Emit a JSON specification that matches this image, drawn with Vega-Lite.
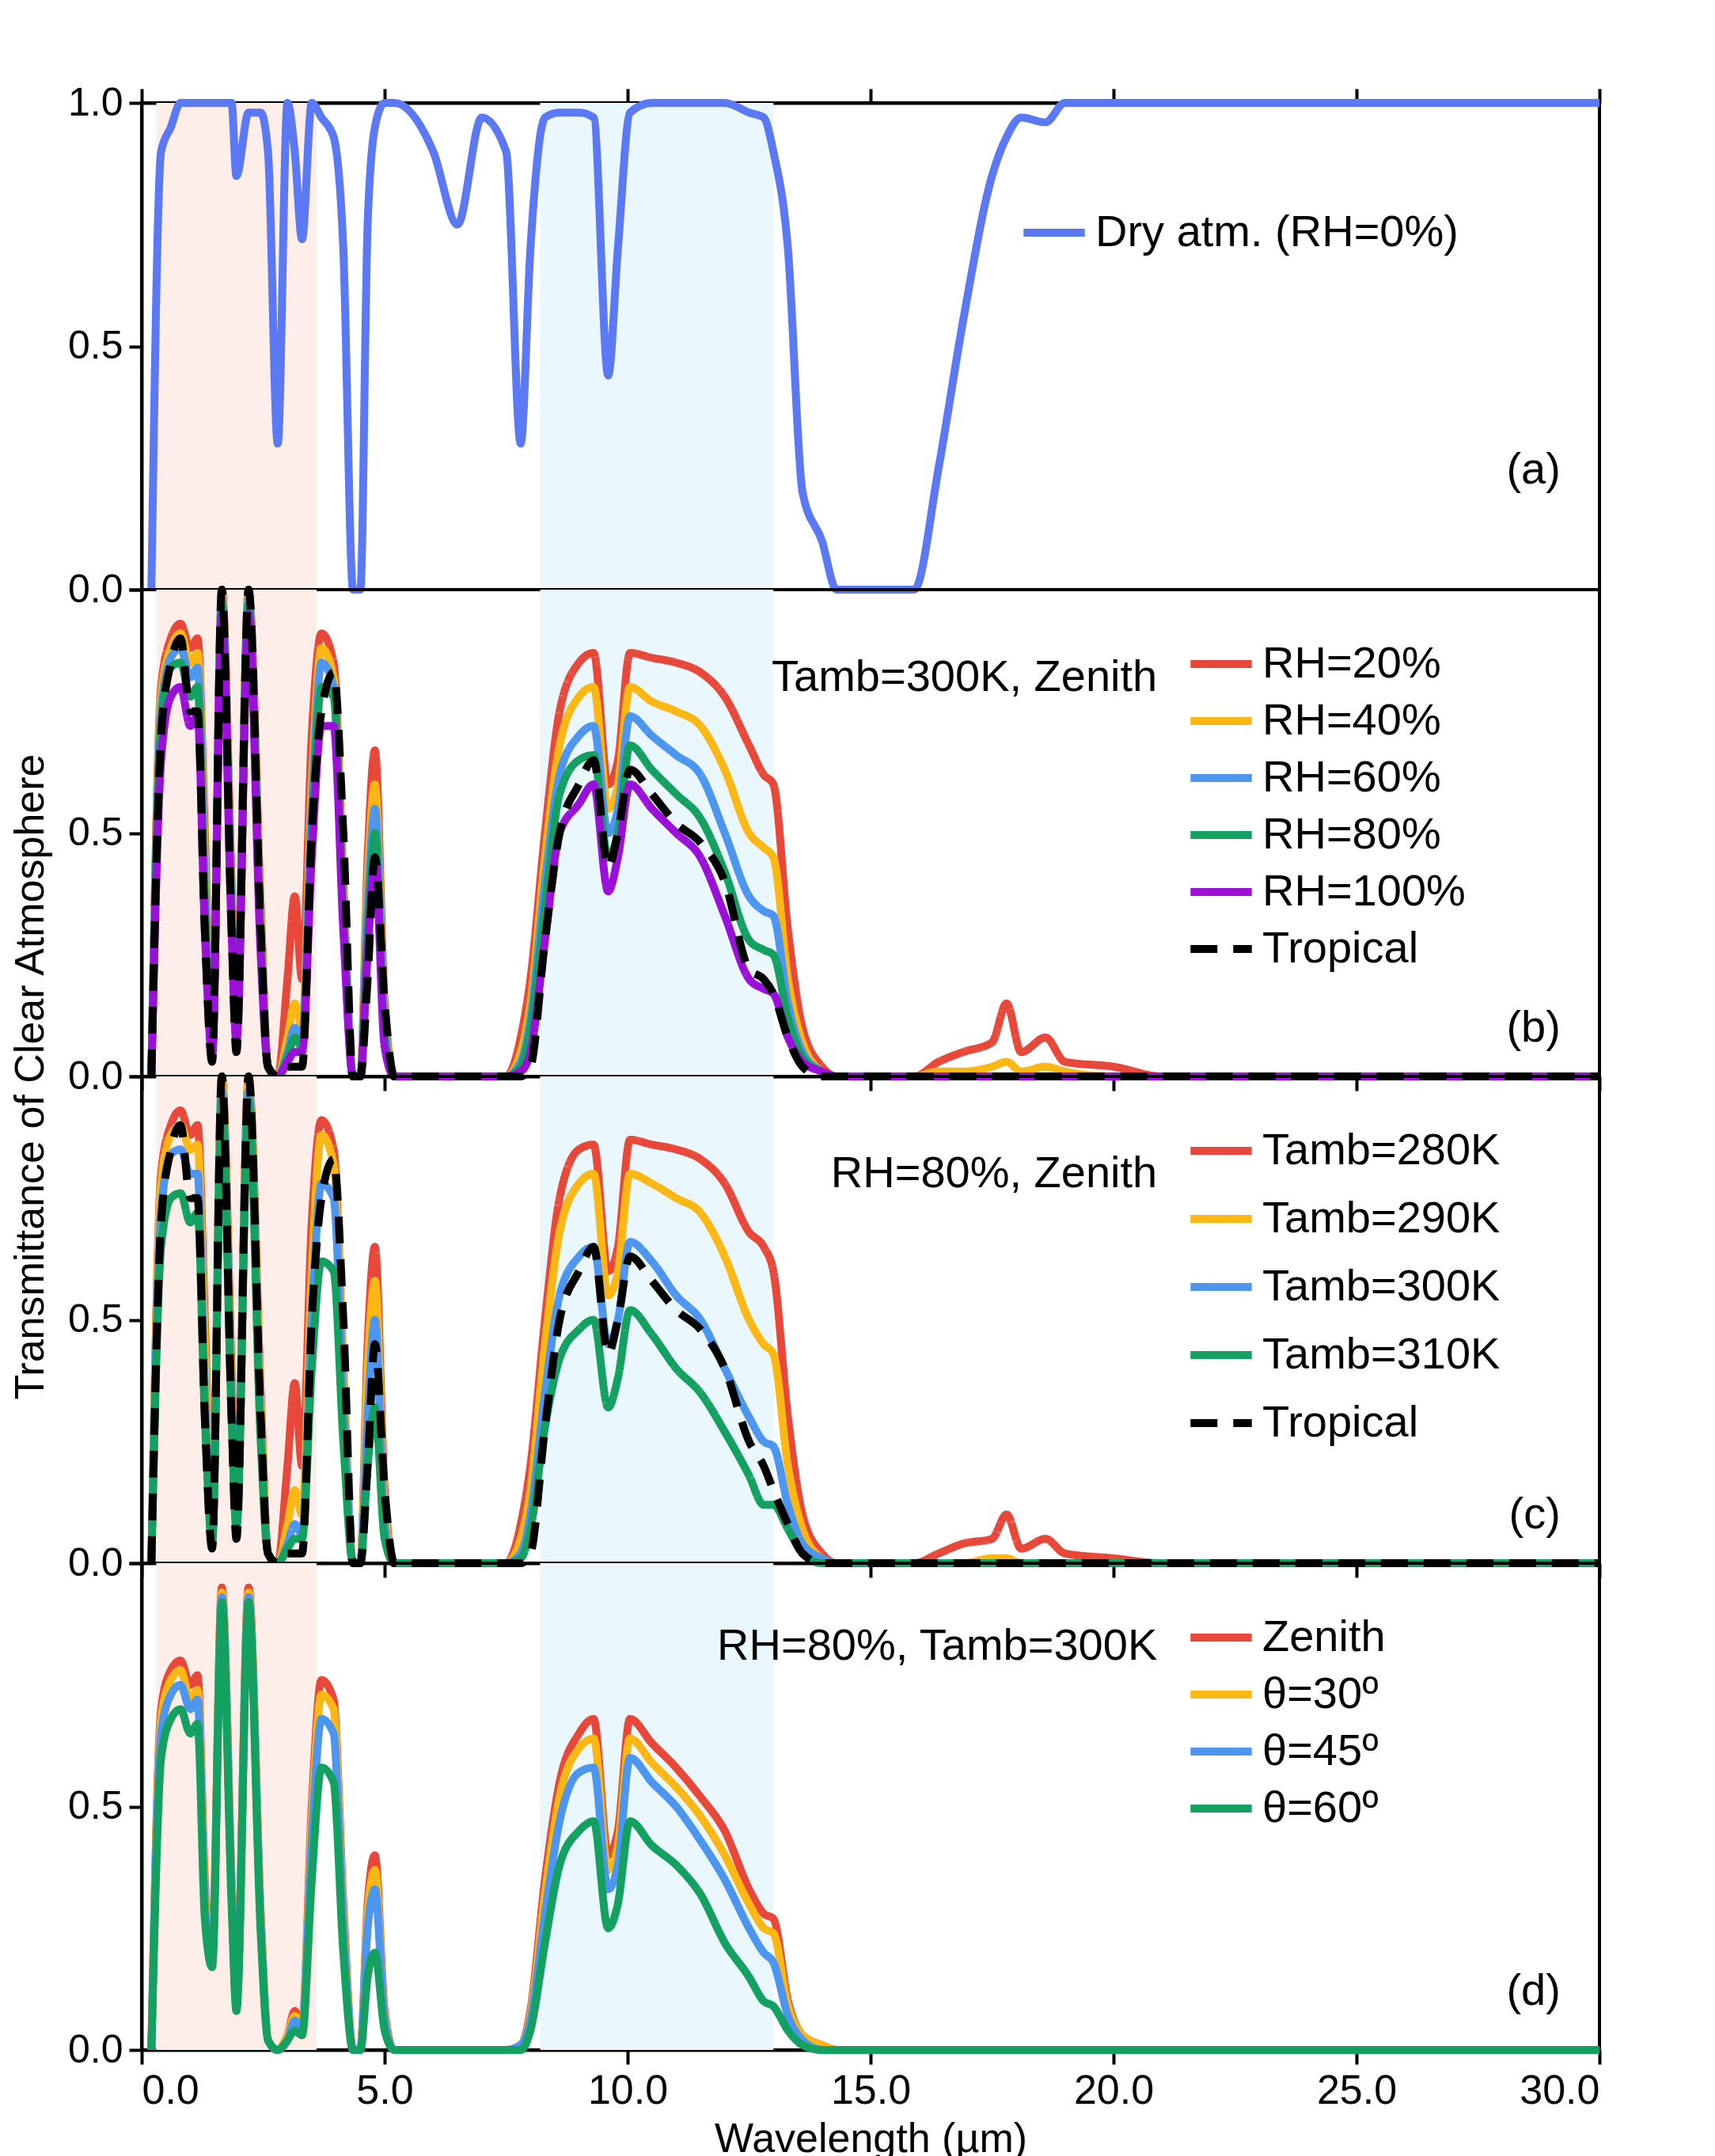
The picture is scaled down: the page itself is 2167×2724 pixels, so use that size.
{
"$schema": "https://vega.github.io/schema/vega-lite/v6.json",
"padding": {"left": 10, "top": 26, "right": 30, "bottom": 10},
"background": "white",
"bounds": "flush",
"config": {
  "font": "Liberation Sans",
  "view": {"stroke": "black", "strokeWidth": 4},
  "axis": {"labelFontSize": 50, "labelColor": "black", "titleFontSize": 52, "titleFontWeight": "normal", "titleColor": "black", "domainColor": "black", "domainWidth": 4, "tickColor": "black", "tickWidth": 4, "tickSize": 16, "grid": false, "labelPadding": 8},
  "legend": {"labelFontSize": 56, "labelColor": "black", "labelLimit": 0, "symbolType": "stroke", "symbolSize": 6000, "symbolStrokeWidth": 10, "rowPadding": 0, "labelOffset": 8, "orient": "none", "title": null},
  "text": {"fontSize": 56, "color": "black"}
},
"datasets": {
  "bands": [{"x0": 0.3, "x1": 3.6, "c": "#fdeee9"}, {"x0": 8.2, "x1": 13.0, "c": "#eaf8fd"}],
  "w": [
    {"x":0.2,"a":0,"b20":0,"b40":0,"b60":0,"b80":0,"b100":0,"bt":0,"c280":0,"c290":0,"c300":0,"c310":0,"ct":0,"d0":0,"d30":0,"d45":0,"d60":0},
    {"x":0.4,"a":0.9,"b20":0.8,"b40":0.78,"b60":0.75,"b80":0.72,"b100":0.65,"bt":0.7,"c280":0.8,"c290":0.78,"c300":0.72,"c310":0.65,"ct":0.7,"d0":0.7,"d30":0.68,"d45":0.65,"d60":0.6},
    {"x":0.6,"a":0.95,"b20":0.9,"b40":0.88,"b60":0.86,"b80":0.84,"b100":0.78,"bt":0.85,"c280":0.9,"c290":0.88,"c300":0.84,"c310":0.75,"ct":0.85,"d0":0.78,"d30":0.76,"d45":0.73,"d60":0.68},
    {"x":0.8,"a":1,"b20":0.93,"b40":0.91,"b60":0.88,"b80":0.85,"b100":0.8,"bt":0.9,"c280":0.93,"c290":0.9,"c300":0.85,"c310":0.76,"ct":0.9,"d0":0.8,"d30":0.78,"d45":0.75,"d60":0.7},
    {"x":1.0,"a":1,"b20":0.88,"b40":0.85,"b60":0.82,"b80":0.78,"b100":0.72,"bt":0.75,"c280":0.88,"c290":0.85,"c300":0.8,"c310":0.7,"ct":0.75,"d0":0.75,"d30":0.72,"d45":0.7,"d60":0.65},
    {"x":1.15,"a":1,"b20":0.9,"b40":0.87,"b60":0.84,"b80":0.8,"b100":0.74,"bt":0.75,"c280":0.9,"c290":0.86,"c300":0.8,"c310":0.72,"ct":0.75,"d0":0.77,"d30":0.74,"d45":0.72,"d60":0.67},
    {"x":1.3,"a":1,"b20":0.5,"b40":0.45,"b60":0.4,"b80":0.35,"b100":0.3,"bt":0.3,"c280":0.5,"c290":0.45,"c300":0.35,"c310":0.3,"ct":0.3,"d0":0.35,"d30":0.33,"d45":0.3,"d60":0.27},
    {"x":1.45,"a":1,"b20":0.05,"b40":0.05,"b60":0.05,"b80":0.05,"b100":0.04,"bt":0.03,"c280":0.05,"c290":0.05,"c300":0.05,"c310":0.04,"ct":0.03,"d0":0.2,"d30":0.19,"d45":0.18,"d60":0.17},
    {"x":1.65,"a":1,"b20":1,"b40":0.99,"b60":0.98,"b80":0.97,"b100":0.95,"bt":1,"c280":1,"c290":0.99,"c300":0.97,"c310":0.95,"ct":1,"d0":0.95,"d30":0.94,"d45":0.93,"d60":0.92},
    {"x":1.85,"a":1,"b20":0.4,"b40":0.37,"b60":0.35,"b80":0.33,"b100":0.3,"bt":0.3,"c280":0.4,"c290":0.37,"c300":0.33,"c310":0.3,"ct":0.3,"d0":0.35,"d30":0.34,"d45":0.33,"d60":0.3},
    {"x":1.95,"a":0.85,"b20":0.1,"b40":0.1,"b60":0.09,"b80":0.08,"b100":0.07,"bt":0.05,"c280":0.1,"c290":0.1,"c300":0.08,"c310":0.07,"ct":0.05,"d0":0.1,"d30":0.1,"d45":0.09,"d60":0.08},
    {"x":2.2,"a":0.98,"b20":1,"b40":0.99,"b60":0.98,"b80":0.97,"b100":0.95,"bt":1,"c280":1,"c290":0.99,"c300":0.97,"c310":0.95,"ct":1,"d0":0.95,"d30":0.94,"d45":0.93,"d60":0.92},
    {"x":2.45,"a":0.98,"b20":0.35,"b40":0.33,"b60":0.3,"b80":0.28,"b100":0.25,"bt":0.3,"c280":0.35,"c290":0.33,"c300":0.28,"c310":0.25,"ct":0.3,"d0":0.28,"d30":0.27,"d45":0.26,"d60":0.24},
    {"x":2.6,"a":0.9,"b20":0.02,"b40":0.02,"b60":0.02,"b80":0.02,"b100":0.02,"bt":0.02,"c280":0.02,"c290":0.02,"c300":0.02,"c310":0.02,"ct":0.02,"d0":0.02,"d30":0.02,"d45":0.02,"d60":0.02},
    {"x":2.8,"a":0.3,"b20":0,"b40":0,"b60":0,"b80":0,"b100":0,"bt":0,"c280":0,"c290":0,"c300":0,"c310":0,"ct":0,"d0":0,"d30":0,"d45":0,"d60":0},
    {"x":3.0,"a":1,"b20":0.2,"b40":0.08,"b60":0.05,"b80":0.04,"b100":0.03,"bt":0.02,"c280":0.2,"c290":0.08,"c300":0.04,"c310":0.03,"ct":0.02,"d0":0.03,"d30":0.03,"d45":0.02,"d60":0.02},
    {"x":3.15,"a":0.9,"b20":0.37,"b40":0.15,"b60":0.1,"b80":0.08,"b100":0.05,"bt":0.02,"c280":0.37,"c290":0.15,"c300":0.08,"c310":0.05,"ct":0.02,"d0":0.08,"d30":0.07,"d45":0.06,"d60":0.04},
    {"x":3.3,"a":0.72,"b20":0.2,"b40":0.1,"b60":0.08,"b80":0.06,"b100":0.05,"bt":0.02,"c280":0.2,"c290":0.1,"c300":0.06,"c310":0.05,"ct":0.02,"d0":0.05,"d30":0.05,"d45":0.04,"d60":0.03},
    {"x":3.5,"a":1,"b20":0.7,"b40":0.6,"b60":0.55,"b80":0.5,"b100":0.45,"bt":0.5,"c280":0.7,"c290":0.6,"c300":0.5,"c310":0.4,"ct":0.5,"d0":0.5,"d30":0.47,"d45":0.43,"d60":0.35},
    {"x":3.7,"a":0.97,"b20":0.91,"b40":0.88,"b60":0.85,"b80":0.8,"b100":0.72,"bt":0.75,"c280":0.91,"c290":0.88,"c300":0.78,"c310":0.62,"ct":0.75,"d0":0.76,"d30":0.73,"d45":0.68,"d60":0.58},
    {"x":3.95,"a":0.93,"b20":0.85,"b40":0.82,"b60":0.8,"b80":0.78,"b100":0.72,"bt":0.83,"c280":0.85,"c290":0.82,"c300":0.75,"c310":0.6,"ct":0.83,"d0":0.72,"d30":0.7,"d45":0.65,"d60":0.55},
    {"x":4.15,"a":0.7,"b20":0.4,"b40":0.38,"b60":0.35,"b80":0.33,"b100":0.3,"bt":0.5,"c280":0.4,"c290":0.38,"c300":0.33,"c310":0.25,"ct":0.5,"d0":0.3,"d30":0.28,"d45":0.25,"d60":0.2},
    {"x":4.35,"a":0,"b20":0,"b40":0,"b60":0,"b80":0,"b100":0,"bt":0,"c280":0,"c290":0,"c300":0,"c310":0,"ct":0,"d0":0,"d30":0,"d45":0,"d60":0},
    {"x":4.5,"a":0,"b20":0,"b40":0,"b60":0,"b80":0,"b100":0,"bt":0,"c280":0,"c290":0,"c300":0,"c310":0,"ct":0,"d0":0,"d30":0,"d45":0,"d60":0},
    {"x":4.65,"a":0.75,"b20":0.45,"b40":0.4,"b60":0.35,"b80":0.3,"b100":0.25,"bt":0.2,"c280":0.45,"c290":0.4,"c300":0.3,"c310":0.2,"ct":0.2,"d0":0.3,"d30":0.28,"d45":0.25,"d60":0.15},
    {"x":4.8,"a":0.95,"b20":0.67,"b40":0.6,"b60":0.55,"b80":0.5,"b100":0.45,"bt":0.45,"c280":0.65,"c290":0.58,"c300":0.5,"c310":0.32,"ct":0.45,"d0":0.4,"d30":0.37,"d45":0.33,"d60":0.2},
    {"x":5.0,"a":1,"b20":0.15,"b40":0.12,"b60":0.1,"b80":0.08,"b100":0.06,"bt":0.15,"c280":0.15,"c290":0.12,"c300":0.08,"c310":0.05,"ct":0.15,"d0":0.08,"d30":0.07,"d45":0.06,"d60":0.04},
    {"x":5.2,"a":1,"b20":0,"b40":0,"b60":0,"b80":0,"b100":0,"bt":0,"c280":0,"c290":0,"c300":0,"c310":0,"ct":0,"d0":0,"d30":0,"d45":0,"d60":0},
    {"x":6.0,"a":0.9,"b20":0,"b40":0,"b60":0,"b80":0,"b100":0,"bt":0,"c280":0,"c290":0,"c300":0,"c310":0,"ct":0,"d0":0,"d30":0,"d45":0,"d60":0},
    {"x":6.5,"a":0.75,"b20":0,"b40":0,"b60":0,"b80":0,"b100":0,"bt":0,"c280":0,"c290":0,"c300":0,"c310":0,"ct":0,"d0":0,"d30":0,"d45":0,"d60":0},
    {"x":7.0,"a":0.97,"b20":0,"b40":0,"b60":0,"b80":0,"b100":0,"bt":0,"c280":0,"c290":0,"c300":0,"c310":0,"ct":0,"d0":0,"d30":0,"d45":0,"d60":0},
    {"x":7.5,"a":0.9,"b20":0,"b40":0,"b60":0,"b80":0,"b100":0,"bt":0,"c280":0,"c290":0,"c300":0,"c310":0,"ct":0,"d0":0,"d30":0,"d45":0,"d60":0},
    {"x":7.8,"a":0.3,"b20":0.08,"b40":0.05,"b60":0.03,"b80":0.02,"b100":0.01,"bt":0,"c280":0.08,"c290":0.05,"c300":0.02,"c310":0.01,"ct":0,"d0":0.01,"d30":0.01,"d45":0.01,"d60":0},
    {"x":8.0,"a":0.7,"b20":0.2,"b40":0.15,"b60":0.12,"b80":0.1,"b100":0.05,"bt":0.02,"c280":0.2,"c290":0.15,"c300":0.1,"c310":0.07,"ct":0.02,"d0":0.08,"d30":0.07,"d45":0.06,"d60":0.04},
    {"x":8.3,"a":0.97,"b20":0.5,"b40":0.45,"b60":0.4,"b80":0.35,"b100":0.28,"bt":0.28,"c280":0.5,"c290":0.45,"c300":0.35,"c310":0.28,"ct":0.28,"d0":0.35,"d30":0.32,"d45":0.28,"d60":0.22},
    {"x":8.6,"a":0.98,"b20":0.75,"b40":0.68,"b60":0.62,"b80":0.58,"b100":0.5,"bt":0.5,"c280":0.75,"c290":0.68,"c300":0.55,"c310":0.42,"ct":0.5,"d0":0.55,"d30":0.52,"d45":0.47,"d60":0.38},
    {"x":9.0,"a":0.98,"b20":0.85,"b40":0.78,"b60":0.7,"b80":0.65,"b100":0.56,"bt":0.6,"c280":0.85,"c290":0.78,"c300":0.63,"c310":0.48,"ct":0.6,"d0":0.65,"d30":0.62,"d45":0.57,"d60":0.45},
    {"x":9.3,"a":0.97,"b20":0.87,"b40":0.8,"b60":0.72,"b80":0.66,"b100":0.6,"bt":0.65,"c280":0.86,"c290":0.8,"c300":0.65,"c310":0.5,"ct":0.65,"d0":0.68,"d30":0.64,"d45":0.58,"d60":0.47},
    {"x":9.6,"a":0.44,"b20":0.6,"b40":0.55,"b60":0.5,"b80":0.45,"b100":0.38,"bt":0.43,"c280":0.6,"c290":0.55,"c300":0.45,"c310":0.32,"ct":0.43,"d0":0.4,"d30":0.37,"d45":0.33,"d60":0.25},
    {"x":9.8,"a":0.7,"b20":0.65,"b40":0.6,"b60":0.55,"b80":0.5,"b100":0.45,"bt":0.5,"c280":0.65,"c290":0.6,"c300":0.5,"c310":0.38,"ct":0.5,"d0":0.45,"d30":0.42,"d45":0.38,"d60":0.3},
    {"x":10.05,"a":0.98,"b20":0.87,"b40":0.8,"b60":0.74,"b80":0.68,"b100":0.6,"bt":0.63,"c280":0.87,"c290":0.8,"c300":0.66,"c310":0.52,"ct":0.63,"d0":0.68,"d30":0.64,"d45":0.6,"d60":0.47},
    {"x":10.5,"a":1,"b20":0.86,"b40":0.77,"b60":0.7,"b80":0.63,"b100":0.55,"bt":0.58,"c280":0.86,"c290":0.78,"c300":0.62,"c310":0.47,"ct":0.58,"d0":0.63,"d30":0.59,"d45":0.55,"d60":0.42},
    {"x":11.0,"a":1,"b20":0.85,"b40":0.75,"b60":0.66,"b80":0.58,"b100":0.5,"bt":0.52,"c280":0.85,"c290":0.75,"c300":0.55,"c310":0.4,"ct":0.52,"d0":0.58,"d30":0.54,"d45":0.5,"d60":0.38},
    {"x":11.5,"a":1,"b20":0.83,"b40":0.72,"b60":0.62,"b80":0.53,"b100":0.45,"bt":0.48,"c280":0.83,"c290":0.72,"c300":0.5,"c310":0.35,"ct":0.48,"d0":0.52,"d30":0.48,"d45":0.43,"d60":0.32},
    {"x":12.0,"a":1,"b20":0.78,"b40":0.63,"b60":0.5,"b80":0.42,"b100":0.33,"bt":0.4,"c280":0.78,"c290":0.63,"c300":0.4,"c310":0.27,"ct":0.4,"d0":0.45,"d30":0.4,"d45":0.35,"d60":0.22},
    {"x":12.5,"a":0.98,"b20":0.68,"b40":0.5,"b60":0.37,"b80":0.28,"b100":0.2,"bt":0.22,"c280":0.68,"c290":0.5,"c300":0.3,"c310":0.18,"ct":0.25,"d0":0.33,"d30":0.3,"d45":0.25,"d60":0.15},
    {"x":12.8,"a":0.97,"b20":0.62,"b40":0.47,"b60":0.34,"b80":0.26,"b100":0.18,"bt":0.2,"c280":0.65,"c290":0.45,"c300":0.25,"c310":0.12,"ct":0.2,"d0":0.28,"d30":0.25,"d45":0.2,"d60":0.1},
    {"x":13.0,"a":0.9,"b20":0.6,"b40":0.45,"b60":0.33,"b80":0.25,"b100":0.17,"bt":0.17,"c280":0.6,"c290":0.43,"c300":0.24,"c310":0.12,"ct":0.15,"d0":0.27,"d30":0.24,"d45":0.18,"d60":0.09},
    {"x":13.3,"a":0.7,"b20":0.3,"b40":0.2,"b60":0.15,"b80":0.12,"b100":0.08,"bt":0.08,"c280":0.3,"c290":0.2,"c300":0.12,"c310":0.07,"ct":0.08,"d0":0.1,"d30":0.09,"d45":0.07,"d60":0.04},
    {"x":13.6,"a":0.2,"b20":0.1,"b40":0.07,"b60":0.05,"b80":0.04,"b100":0.03,"bt":0.02,"c280":0.1,"c290":0.07,"c300":0.04,"c310":0.02,"ct":0.02,"d0":0.03,"d30":0.03,"d45":0.02,"d60":0.01},
    {"x":14.0,"a":0.1,"b20":0.02,"b40":0.01,"b60":0.01,"b80":0.01,"b100":0.01,"bt":0,"c280":0.02,"c290":0.01,"c300":0.01,"c310":0,"ct":0,"d0":0.01,"d30":0.01,"d45":0,"d60":0},
    {"x":14.3,"a":0,"b20":0,"b40":0,"b60":0,"b80":0,"b100":0,"bt":0,"c280":0,"c290":0,"c300":0,"c310":0,"ct":0,"d0":0,"d30":0,"d45":0,"d60":0},
    {"x":15.9,"a":0,"b20":0,"b40":0,"b60":0,"b80":0,"b100":0,"bt":0,"c280":0,"c290":0,"c300":0,"c310":0,"ct":0,"d0":0,"d30":0,"d45":0,"d60":0},
    {"x":16.4,"a":0.25,"b20":0.03,"b40":0.01,"b60":0,"b80":0,"b100":0,"bt":0,"c280":0.02,"c290":0,"c300":0,"c310":0,"ct":0,"d0":0,"d30":0,"d45":0,"d60":0},
    {"x":16.9,"a":0.55,"b20":0.05,"b40":0.01,"b60":0,"b80":0,"b100":0,"bt":0,"c280":0.04,"c290":0,"c300":0,"c310":0,"ct":0,"d0":0,"d30":0,"d45":0,"d60":0},
    {"x":17.5,"a":0.85,"b20":0.07,"b40":0.02,"b60":0,"b80":0,"b100":0,"bt":0,"c280":0.05,"c290":0.01,"c300":0,"c310":0,"ct":0,"d0":0,"d30":0,"d45":0,"d60":0},
    {"x":17.8,"a":0.93,"b20":0.15,"b40":0.03,"b60":0,"b80":0,"b100":0,"bt":0,"c280":0.1,"c290":0.01,"c300":0,"c310":0,"ct":0,"d0":0,"d30":0,"d45":0,"d60":0},
    {"x":18.1,"a":0.97,"b20":0.05,"b40":0.01,"b60":0,"b80":0,"b100":0,"bt":0,"c280":0.03,"c290":0,"c300":0,"c310":0,"ct":0,"d0":0,"d30":0,"d45":0,"d60":0},
    {"x":18.6,"a":0.96,"b20":0.08,"b40":0.02,"b60":0,"b80":0,"b100":0,"bt":0,"c280":0.05,"c290":0,"c300":0,"c310":0,"ct":0,"d0":0,"d30":0,"d45":0,"d60":0},
    {"x":19.0,"a":1,"b20":0.03,"b40":0.01,"b60":0,"b80":0,"b100":0,"bt":0,"c280":0.02,"c290":0,"c300":0,"c310":0,"ct":0,"d0":0,"d30":0,"d45":0,"d60":0},
    {"x":20.0,"a":1,"b20":0.02,"b40":0,"b60":0,"b80":0,"b100":0,"bt":0,"c280":0.01,"c290":0,"c300":0,"c310":0,"ct":0,"d0":0,"d30":0,"d45":0,"d60":0},
    {"x":21.0,"a":1,"b20":0,"b40":0,"b60":0,"b80":0,"b100":0,"bt":0,"c280":0,"c290":0,"c300":0,"c310":0,"ct":0,"d0":0,"d30":0,"d45":0,"d60":0},
    {"x":30.0,"a":1,"b20":0,"b40":0,"b60":0,"b80":0,"b100":0,"bt":0,"c280":0,"c290":0,"c300":0,"c310":0,"ct":0,"d0":0,"d30":0,"d45":0,"d60":0}
  ]
},
"spacing": 0,
"resolve": {"scale": {"color": "independent", "strokeDash": "independent"}},
"vconcat": [
  {"width": 1842, "height": 615,
   "layer": [
    {"data": {"name": "bands"}, "mark": {"type": "rect"},
     "encoding": {"x": {"field": "x0", "type": "quantitative", "scale": {"domain": [0, 30]}, "axis": {"orient": "top", "labels": false, "title": null, "values": [0,5,10,15,20,25,30], "tickSize": 18}}, "x2": {"field": "x1"}, "y": {"datum": 0, "type": "quantitative"}, "y2": {"datum": 1}, "fill": {"field": "c", "type": "nominal", "scale": null}}},
    {"data": {"name": "w"}, "transform": [{"fold": ["a"], "as": ["s", "t"]}],
     "mark": {"type": "line", "strokeWidth": 10, "interpolate": "monotone"},
     "encoding": {
       "x": {"field": "x", "type": "quantitative", "scale": {"domain": [0, 30]}},
       "y": {"field": "t", "type": "quantitative", "scale": {"domain": [0, 1]}, "axis": {"values": [0, 0.5, 1], "format": ".1f", "title": "Transmittance of Clear Atmosphere", "titleOpacity": 0, "titlePadding": 20}},
       "color": {"field": "s", "type": "nominal", "scale": {"domain": ["a"], "range": ["#5b78f5"]}, "legend": {"labelExpr": "'Dry atm. (RH=0%)'", "legendX": 1109, "legendY": 120}}}},
    {"data": {"values": [{}]}, "mark": {"type": "text", "align": "right"}, "encoding": {"x": {"datum": 29.2}, "y": {"datum": 0.245}, "text": {"value": "(a)"}}}
   ]},
  {"width": 1842, "height": 615,
   "layer": [
    {"data": {"name": "bands"}, "mark": {"type": "rect"},
     "encoding": {"x": {"field": "x0", "type": "quantitative", "scale": {"domain": [0, 30]}, "axis": {"labels": false, "title": null, "values": [0,5,10,15,20,25,30], "tickSize": 18}}, "x2": {"field": "x1"}, "y": {"datum": 0, "type": "quantitative"}, "y2": {"datum": 1}, "fill": {"field": "c", "type": "nominal", "scale": null}}},
    {"data": {"name": "w"}, "transform": [{"fold": ["b20", "b40", "b60", "b80", "b100", "bt"], "as": ["s", "t"]}],
     "mark": {"type": "line", "strokeWidth": 10, "interpolate": "monotone"},
     "encoding": {
       "x": {"field": "x", "type": "quantitative", "scale": {"domain": [0, 30]}},
       "y": {"field": "t", "type": "quantitative", "scale": {"domain": [0, 1]}, "axis": {"values": [0, 0.5, 1], "format": ".1f", "labelExpr": "datum.value == 1 ? '' : datum.label", "title": "Transmittance of Clear Atmosphere", "titleY": 615, "titlePadding": 20}},
       "color": {"field": "s", "type": "nominal", "scale": {"domain": ["b20", "b40", "b60", "b80", "b100", "bt"], "range": ["#e8483a", "#fbb714", "#4d96f0", "#13a060", "#9a10d8", "black"]}, "legend": {"labelExpr": "{'b20':'RH=20%','b40':'RH=40%','b60':'RH=60%','b80':'RH=80%','b100':'RH=100%','bt':'Tropical'}[datum.value]", "legendX": 1320, "legendY": 50}},
       "strokeDash": {"field": "s", "type": "nominal", "scale": {"domain": ["b20", "b40", "b60", "b80", "b100", "bt"], "range": [[1, 0], [1, 0], [1, 0], [1, 0], [1, 0], [34, 20]]}, "legend": {"labelExpr": "{'b20':'RH=20%','b40':'RH=40%','b60':'RH=60%','b80':'RH=80%','b100':'RH=100%','bt':'Tropical'}[datum.value]", "legendX": 1320, "legendY": 50}}}},
    {"data": {"values": [{}]}, "mark": {"type": "text", "align": "right"}, "encoding": {"x": {"datum": 20.9}, "y": {"datum": 0.82}, "text": {"value": "Tamb=300K, Zenith"}}},
    {"data": {"values": [{}]}, "mark": {"type": "text", "align": "right"}, "encoding": {"x": {"datum": 29.2}, "y": {"datum": 0.1}, "text": {"value": "(b)"}}}
   ]},
  {"width": 1842, "height": 615,
   "layer": [
    {"data": {"name": "bands"}, "mark": {"type": "rect"},
     "encoding": {"x": {"field": "x0", "type": "quantitative", "scale": {"domain": [0, 30]}, "axis": {"labels": false, "title": null, "values": [0,5,10,15,20,25,30], "tickSize": 18}}, "x2": {"field": "x1"}, "y": {"datum": 0, "type": "quantitative"}, "y2": {"datum": 1}, "fill": {"field": "c", "type": "nominal", "scale": null}}},
    {"data": {"name": "w"}, "transform": [{"fold": ["c280", "c290", "c300", "c310", "ct"], "as": ["s", "t"]}],
     "mark": {"type": "line", "strokeWidth": 10, "interpolate": "monotone"},
     "encoding": {
       "x": {"field": "x", "type": "quantitative", "scale": {"domain": [0, 30]}},
       "y": {"field": "t", "type": "quantitative", "scale": {"domain": [0, 1]}, "axis": {"values": [0, 0.5, 1], "format": ".1f", "labelExpr": "datum.value == 1 ? '' : datum.label", "title": "Transmittance of Clear Atmosphere", "titleOpacity": 0, "titlePadding": 20}},
       "color": {"field": "s", "type": "nominal", "scale": {"domain": ["c280", "c290", "c300", "c310", "ct"], "range": ["#e8483a", "#fbb714", "#4d96f0", "#13a060", "black"]}, "legend": {"labelExpr": "{'c280':'Tamb=280K','c290':'Tamb=290K','c300':'Tamb=300K','c310':'Tamb=310K','ct':'Tropical'}[datum.value]", "legendX": 1320, "legendY": 50, "rowPadding": 14}},
       "strokeDash": {"field": "s", "type": "nominal", "scale": {"domain": ["c280", "c290", "c300", "c310", "ct"], "range": [[1, 0], [1, 0], [1, 0], [1, 0], [34, 20]]}, "legend": {"labelExpr": "{'c280':'Tamb=280K','c290':'Tamb=290K','c300':'Tamb=300K','c310':'Tamb=310K','ct':'Tropical'}[datum.value]", "legendX": 1320, "legendY": 50, "rowPadding": 14}}}},
    {"data": {"values": [{}]}, "mark": {"type": "text", "align": "right"}, "encoding": {"x": {"datum": 20.9}, "y": {"datum": 0.8}, "text": {"value": "RH=80%, Zenith"}}},
    {"data": {"values": [{}]}, "mark": {"type": "text", "align": "right"}, "encoding": {"x": {"datum": 29.2}, "y": {"datum": 0.1}, "text": {"value": "(c)"}}}
   ]},
  {"width": 1842, "height": 615,
   "layer": [
    {"data": {"name": "bands"}, "mark": {"type": "rect"},
     "encoding": {"x": {"field": "x0", "type": "quantitative", "scale": {"domain": [0, 30]}, "axis": {"title": "Wavelength (µm)", "values": [0,5,10,15,20,25,30], "tickSize": 18, "labelFontSize": 52, "titlePadding": 10}}, "x2": {"field": "x1"}, "y": {"datum": 0, "type": "quantitative"}, "y2": {"datum": 1}, "fill": {"field": "c", "type": "nominal", "scale": null}}},
    {"data": {"name": "w"}, "transform": [{"fold": ["d0", "d30", "d45", "d60"], "as": ["s", "t"]}],
     "mark": {"type": "line", "strokeWidth": 10, "interpolate": "monotone"},
     "encoding": {
       "x": {"field": "x", "type": "quantitative", "scale": {"domain": [0, 30]}},
       "y": {"field": "t", "type": "quantitative", "scale": {"domain": [0, 1]}, "axis": {"values": [0, 0.5, 1], "format": ".1f", "labelExpr": "datum.value == 1 ? '' : datum.label", "title": "Transmittance of Clear Atmosphere", "titleOpacity": 0, "titlePadding": 20}},
       "color": {"field": "s", "type": "nominal", "scale": {"domain": ["d0", "d30", "d45", "d60"], "range": ["#e8483a", "#fbb714", "#4d96f0", "#13a060"]}, "legend": {"labelExpr": "{'d0':'Zenith','d30':'θ=30º','d45':'θ=45º','d60':'θ=60º'}[datum.value]", "legendX": 1320, "legendY": 50}}}},
    {"data": {"values": [{}]}, "mark": {"type": "text", "align": "right"}, "encoding": {"x": {"datum": 20.9}, "y": {"datum": 0.83}, "text": {"value": "RH=80%, Tamb=300K"}}},
    {"data": {"values": [{}]}, "mark": {"type": "text", "align": "right"}, "encoding": {"x": {"datum": 29.2}, "y": {"datum": 0.12}, "text": {"value": "(d)"}}}
   ]}
]
}
